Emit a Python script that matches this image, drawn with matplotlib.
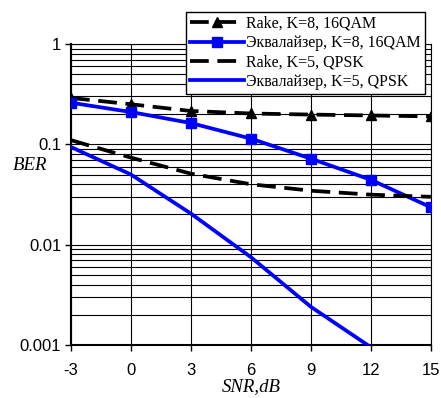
import numpy as np
import matplotlib
matplotlib.use('Agg')
import matplotlib.pyplot as plt
from matplotlib.ticker import LogLocator, NullFormatter

# data
snr = [-3, 0, 3, 6, 9, 12, 15]
rake_k8 = [0.29, 0.251, 0.215, 0.203, 0.198, 0.194, 0.19]
eq_k8 = [0.26, 0.21, 0.163, 0.114, 0.072, 0.0443, 0.0236]
rake_k5 = [0.11, 0.0737, 0.051, 0.040, 0.0345, 0.0315, 0.030]
eq_k5 = [0.094, 0.050, 0.0204, 0.0075, 0.0024, 0.00095, 0.0003]
labels = ['Rake, K=8, 16QAM', 'Эквалайзер, K=8, 16QAM',
          'Rake, K=5, QPSK', 'Эквалайзер, K=5, QPSK']
x_ticks = [-3, 0, 3, 6, 9, 12, 15]
y_ticks = [0.001, 0.01, 0.1, 1]
y_ticklabels = ['0.001', '0.01', '0.1', '1']

fig = plt.figure(figsize=(4.41, 3.98), dpi=100)
ax = fig.add_axes([0.161, 0.1332, 0.816, 0.7562])

lw = 2.7
dash = (5, 2.3)
ax.plot(snr, rake_k8, color='black', lw=lw, dashes=dash, marker='^',
        markersize=7, label=labels[0], zorder=4)
ax.plot(snr, eq_k8, color='#0000ff', lw=lw, marker='s',
        markersize=7, label=labels[1], zorder=4)
ax.plot(snr, rake_k5, color='black', lw=lw, dashes=dash,
        label=labels[2], zorder=4)
ax.plot(snr, eq_k5, color='#0000ff', lw=lw, label=labels[3], zorder=4)

ax.set_yscale('log')
ax.set_xlim(-3, 15)
ax.set_ylim(0.001, 1)
ax.set_xticks(x_ticks)
ax.set_xticklabels([str(v) for v in x_ticks], family='Liberation Sans',
                   fontsize=12)
ax.set_yticks(y_ticks)
ax.set_yticklabels(y_ticklabels, family='Liberation Sans', fontsize=12)
ax.yaxis.set_minor_locator(LogLocator(base=10, subs=np.arange(2, 10)))
ax.yaxis.set_minor_formatter(NullFormatter())
ax.tick_params(axis='both', which='major', direction='out', length=4,
               width=1, color='black')
ax.tick_params(axis='x', which='major', pad=9)
ax.tick_params(axis='y', which='major', pad=3)
ax.tick_params(axis='y', which='minor', length=0)

# grid lines
ax.grid(True, which='major', axis='both', color='black', lw=0.8)
ax.grid(True, which='minor', axis='y', color='black', lw=0.8)
ax.set_axisbelow(True)

for s in ['left', 'bottom']:
    ax.spines[s].set_linewidth(1.5)
for s in ['top', 'right']:
    ax.spines[s].set_linewidth(0.8)

ax.set_xlabel('SNR,dB', family='Liberation Serif', style='italic',
              fontsize=13.5, labelpad=0)
ax.set_ylabel('BER', family='Liberation Serif', style='italic',
              fontsize=13.5, rotation=0, ha='center', va='center')
ax.yaxis.set_label_coords(-0.114, 0.597)

leg = fig.legend(loc='upper right', bbox_to_anchor=(0.964, 0.97),
                 prop={'family': 'Liberation Serif', 'size': 11.5},
                 handlelength=3.4, handletextpad=0.15, labelspacing=0.2,
                 borderpad=0.25, borderaxespad=0, fancybox=False,
                 framealpha=1, edgecolor='black')
leg.get_frame().set_linewidth(1.0)

fig.savefig('out.png', dpi=100)
